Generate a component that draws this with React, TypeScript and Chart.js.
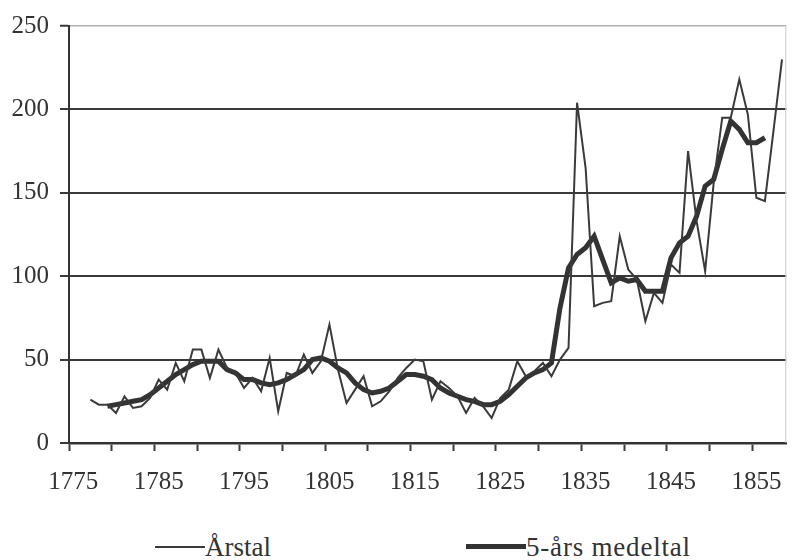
import React, { useEffect, useRef } from "react";
import { Chart, registerables } from "chart.js";

Chart.register(...registerables);

const categories = [
  "1775", "1776", "1777", "1778", "1779", "1780", "1781", "1782", "1783", "1784",
  "1785", "1786", "1787", "1788", "1789", "1790", "1791", "1792", "1793", "1794",
  "1795", "1796", "1797", "1798", "1799", "1800", "1801", "1802", "1803", "1804",
  "1805", "1806", "1807", "1808", "1809", "1810", "1811", "1812", "1813", "1814",
  "1815", "1816", "1817", "1818", "1819", "1820", "1821", "1822", "1823", "1824",
  "1825", "1826", "1827", "1828", "1829", "1830", "1831", "1832", "1833", "1834",
  "1835", "1836", "1837", "1838", "1839", "1840", "1841", "1842", "1843", "1844",
  "1845", "1846", "1847", "1848", "1849", "1850", "1851", "1852", "1853", "1854",
  "1855", "1856", "1857", "1858",
];

// Årstal (annual values), 1775–1858
const annualValues: (number | null)[] = [
  null, null,
  26, 23, 23, 18, 28, 21, 22, 27, 38, 32,
  48, 37, 56, 56, 39, 56, 45, 42, 33, 39,
  31, 51, 19, 42, 40, 53, 42, 49, 71, 44,
  24, 32, 40, 22, 25, 31, 39, 45, 50, 49,
  26, 37, 33, 28, 18, 27, 22, 15, 27, 32,
  49, 40, 43, 48, 40, 50, 57, 204, 165, 82,
  84, 85, 124, 104, 98, 73, 90, 84, 107, 102,
  175, 133, 103, 156, 195, 195, 218, 197, 147, 145,
  187, 230,
];

// 5-års medeltal (5-year average), 1775–1858
const movingAvgValues: (number | null)[] = [
  null, null, null, null,
  22, 23, 24, 25, 26, 29, 33, 37, 41, 44,
  47, 49, 49, 49, 44, 42, 38, 38, 36, 35,
  36, 38, 41, 44, 50, 51, 49, 45, 42, 36,
  32, 30, 31, 33, 37, 41, 41, 40, 38, 33,
  30, 28, 26, 25, 23, 23, 25, 29, 34, 39,
  42, 44, 48, 81, 105, 113, 117, 124, 110, 96,
  99, 97, 98, 91, 91, 91, 111, 120, 124, 136,
  154, 158, 176, 193, 188, 180, 180, 183,
  null, null,
];

const xTickLabels = ["1775", "1785", "1795", "1805", "1815", "1825", "1835", "1845", "1855"];
const yMin = 0;
const yMax = 250;
const yStep = 50;

const seriesNames = ["Årstal", "5-års medeltal"];

const FONT = "'Liberation Serif', 'Times New Roman', serif";
const INK = "#3a3a3a";

const rightBorder = {
  id: "rightBorder",
  afterDraw(chart: any) {
    const { ctx, chartArea } = chart;
    ctx.save();
    ctx.strokeStyle = "#c8c8c8";
    ctx.lineWidth = 1;
    ctx.beginPath();
    ctx.moveTo(chartArea.right - 0.5, chartArea.top);
    ctx.lineTo(chartArea.right - 0.5, chartArea.bottom);
    ctx.stroke();
    ctx.restore();
  },
};

export default function App() {
  const ref = useRef<HTMLCanvasElement>(null);

  useEffect(() => {
    if (!ref.current) return;
    const chart = new Chart(ref.current, {
      type: "line",
      data: {
        labels: categories,
        datasets: [
          {
            label: seriesNames[0],
            data: annualValues,
            borderColor: INK,
            borderWidth: 2,
            pointRadius: 0,
            tension: 0,
            fill: false,
          },
          {
            label: seriesNames[1],
            data: movingAvgValues,
            borderColor: "#333333",
            borderWidth: 5,
            pointRadius: 0,
            tension: 0,
            fill: false,
          },
        ],
      },
      options: {
        responsive: false,
        animation: false,
        devicePixelRatio: 1,
        layout: { padding: { left: 0, right: 1, top: 22, bottom: 0 } },
        plugins: {
          legend: { display: false },
          tooltip: { enabled: false },
        },
        scales: {
          x: {
            type: "category",
            offset: true,
            grid: {
              offset: true,
              drawOnChartArea: false,
              drawTicks: true,
              tickLength: 8,
              tickWidth: 2,
              tickColor: (ctx: any) =>
                typeof ctx.index === "number" && ctx.index % 5 === 0 ? INK : "rgba(0,0,0,0)",
            },
            border: { display: true, color: "#333", width: 2.5 },
            ticks: {
              autoSkip: false,
              maxRotation: 0,
              minRotation: 0,
              padding: 16,
              color: "#333",
              font: { family: FONT, size: 25 },
              callback: (_v: any, i: number) =>
                xTickLabels.includes(categories[i]) ? categories[i] : "",
            },
            afterFit: (s: any) => {
              s.height = 57;
            },
          },
          y: {
            min: yMin,
            max: yMax,
            ticks: {
              stepSize: yStep,
              padding: 11,
              color: "#333",
              font: { family: FONT, size: 25 },
            },
            grid: {
              color: (ctx: any) => (ctx.tick && ctx.tick.value === yMax ? "#b0b0b0" : INK),
              lineWidth: (ctx: any) => (ctx.tick && ctx.tick.value === yMax ? 1.5 : 2),
              tickLength: 9,
              tickColor: INK,
              tickWidth: 2,
            },
            border: { display: true, color: "#333", width: 2 },
            afterFit: (s: any) => {
              s.width = 69;
            },
          },
        },
      },
      plugins: [rightBorder],
    });
    return () => chart.destroy();
  }, []);

  const textStyle: React.CSSProperties = {
    position: "absolute",
    fontFamily: FONT,
    fontSize: 27,
    lineHeight: "27px",
    color: "#333",
    whiteSpace: "nowrap",
  };

  return (
    <div
      style={{
        position: "fixed",
        left: 0,
        top: 0,
        width: 798,
        height: 560,
        background: "#ffffff",
        overflow: "hidden",
      }}
    >
      <canvas ref={ref} width={798} height={500} style={{ position: "absolute", left: 0, top: 0 }} />
      <div style={{ position: "absolute", left: 155, top: 546, width: 50, height: 2, background: INK }} />
      <div style={{ ...textStyle, left: 205, top: 534 }}>{seriesNames[0]}</div>
      <div style={{ position: "absolute", left: 466, top: 544, width: 60, height: 5, background: "#333" }} />
      <div style={{ ...textStyle, left: 526, top: 534, letterSpacing: 0.8 }}>{seriesNames[1]}</div>
    </div>
  );
}
